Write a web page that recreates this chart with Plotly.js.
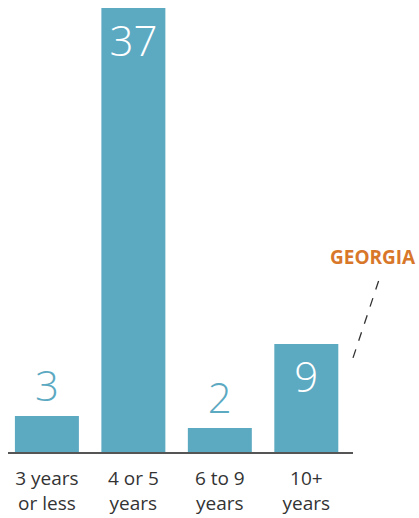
<!DOCTYPE html>
<html>
<head>
<meta charset="utf-8">
<script src="https://cdn.plot.ly/plotly-3.0.1.min.js"></script>
<style>html,body{margin:0;padding:0;background:#fff;}#chart{width:419px;height:518px;}</style>
</head>
<body>
<div id="chart"></div>
<script>
const categories = ["3 years<br>or less", "4 or 5<br>years", "6 to 9<br>years", "10+<br>years"];
const values = [3, 37, 2, 9];
const textPositions = ["outside", "inside", "outside", "inside"];
const calloutLabel = "GEORGIA";

const barColor = "#5ca9c2";

const trace = {
  type: "bar",
  x: categories,
  y: values,
  text: values.map(String),
  textposition: textPositions,
  insidetextanchor: "end",
  textangle: 0,
  cliponaxis: false,
  constraintext: "none",
  marker: {color: barColor, line: {width: 0}},
  insidetextfont: {family: "Open Sans", size: 42, color: "#ffffff", weight: 300},
  outsidetextfont: {family: "Open Sans", size: 42, color: barColor, weight: 300},
  hoverinfo: "none"
};

const layout = {
  width: 419, height: 518,
  margin: {l: 8, r: 66, t: 8, b: 66},
  paper_bgcolor: "#fff", plot_bgcolor: "#fff",
  showlegend: false,
  bargap: 0.26,
  xaxis: {
    type: "category",
    range: [-0.45, 3.54],
    showgrid: false, zeroline: false,
    showline: true, linecolor: "#555", linewidth: 1.5,
    ticks: "", ticklabelstandoff: 9,
    tickfont: {family: "Open Sans", size: 19, color: "#333"},
    fixedrange: true
  },
  yaxis: {
    range: [0, 37],
    visible: false, showgrid: false, zeroline: false,
    fixedrange: true
  },
  shapes: [{
    type: "line", xref: "paper", yref: "paper",
    x0: 1.0, y0: 0.212, x1: 1.078, y1: 0.394,
    line: {color: "#333", width: 1.3, dash: "dash"}
  }],
  annotations: [{
    xref: "paper", yref: "paper", x: 1.058, y: 0.439,
    text: "<b>" + calloutLabel + "</b>",
    showarrow: false, xanchor: "center", yanchor: "middle",
    font: {family: "Open Sans", size: 19, color: "#d8772a"}
  }]
};

Plotly.newPlot("chart", [trace], layout, {displayModeBar: false, staticPlot: true});
</script>
</body>
</html>
